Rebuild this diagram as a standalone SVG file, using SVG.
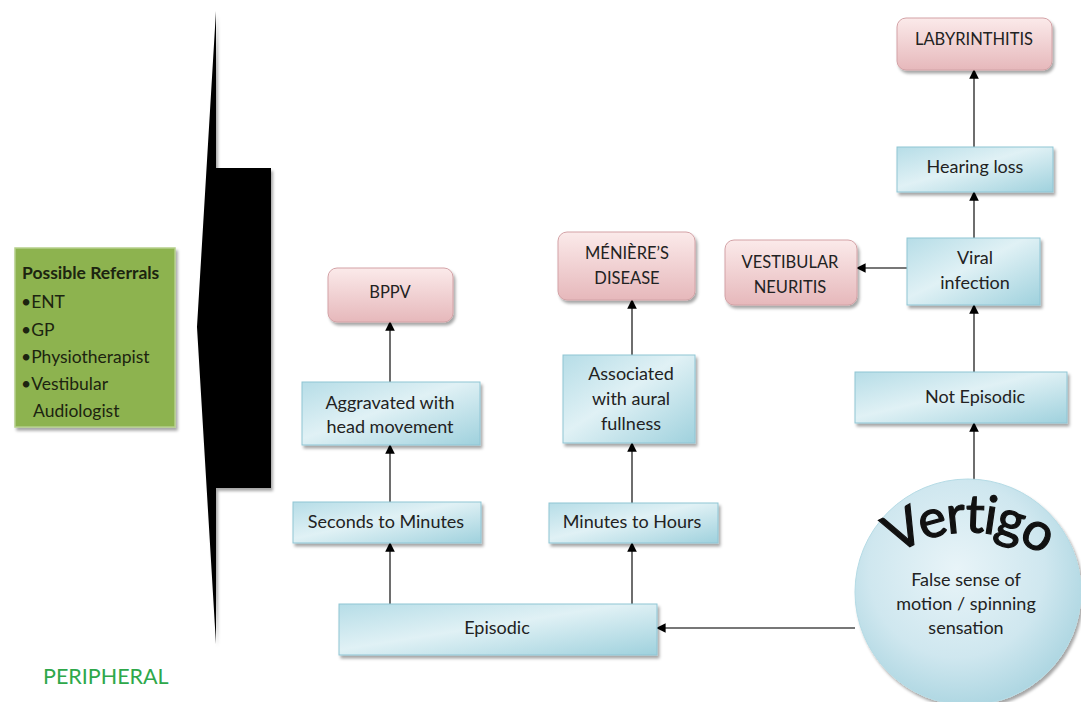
<svg xmlns="http://www.w3.org/2000/svg" width="1081" height="702" viewBox="0 0 1081 702">
  <defs>
    <style>
      text { font-family: "Lato", "Open Sans", "Liberation Sans", sans-serif; fill: #222; }
      .lbl { font-size: 18px; text-anchor: middle; }
      .cap { font-size: 16.5px; text-anchor: middle; }
      .blue { fill: url(#gBlue); stroke: #8fc5d4; stroke-width: 1; filter: url(#shadow); }
      .pink { fill: url(#gPink); stroke: #d3a2a6; stroke-width: 1; filter: url(#shadow); }
      .conn { stroke: #4a4a4a; stroke-width: 1.6; fill: none; marker-end: url(#arrow); }
      .ref { font-size: 17.5px; fill: #1c2410; }
    </style>
    <linearGradient id="gBlue" x1="0" y1="0" x2="1" y2="1">
      <stop offset="0" stop-color="#b6dde7"/>
      <stop offset="0.45" stop-color="#e0f1f5"/>
      <stop offset="1" stop-color="#9fd1dd"/>
    </linearGradient>
    <linearGradient id="gPink" x1="0" y1="0" x2="0" y2="1">
      <stop offset="0" stop-color="#fbeaea"/>
      <stop offset="1" stop-color="#e6b8bb"/>
    </linearGradient>
    <radialGradient id="gCircle" cx="0.45" cy="0.4" r="0.65">
      <stop offset="0" stop-color="#e8f4f8"/>
      <stop offset="0.6" stop-color="#cfe7ef"/>
      <stop offset="1" stop-color="#a7d3df"/>
    </radialGradient>
    <filter id="shadow" x="-10%" y="-10%" width="125%" height="135%">
      <feDropShadow dx="2" dy="3" stdDeviation="1.5" flood-color="#000" flood-opacity="0.35"/>
    </filter>
    <marker id="arrow" viewBox="0 0 10 10" refX="9" refY="5" markerWidth="6" markerHeight="6" orient="auto" markerUnits="strokeWidth">
      <path d="M0,0 L10,5 L0,10 Z" fill="#000"/>
    </marker>
    <!-- baseline arc for the title lettering -->
    <path id="vertigoArc" d="M862,590 A128,128 0 0 1 1076,590"/>
  </defs>

  <rect width="1081" height="702" fill="#fff"/>

  <!-- bracket shape separating referrals from the flowchart -->
  <g id="bracket">
    <path d="M216,11 L216,168 L271,168 L271,488 L216,488 L216,644 L197,327 Z" fill="#000" filter="url(#shadow)"/>
  </g>

  <!-- referrals panel -->
  <g id="referrals">
    <rect x="15" y="248" width="160" height="179" fill="#8db34f" stroke="#b5cf8a" stroke-width="1.5" filter="url(#shadow)"/>
    <text x="22" y="279" class="ref" font-weight="bold">Possible Referrals</text>
    <text x="21" y="308" class="ref">•ENT</text>
    <text x="21" y="336" class="ref">•GP</text>
    <text x="21" y="363" class="ref">•Physiotherapist</text>
    <text x="21" y="390" class="ref">•Vestibular</text>
    <text x="33" y="417" class="ref">Audiologist</text>
  </g>

  <text id="peripheral" x="43" y="684" font-size="21.5" style="fill:#2ea84a">PERIPHERAL</text>

  <!-- connectors -->
  <g id="connectors">
    <line class="conn" x1="390" y1="604" x2="390" y2="543"/>
    <line class="conn" x1="632" y1="604" x2="632" y2="543"/>
    <line class="conn" x1="390" y1="502" x2="390" y2="445"/>
    <line class="conn" x1="632" y1="503" x2="632" y2="443"/>
    <line class="conn" x1="390" y1="382" x2="390" y2="322"/>
    <line class="conn" x1="632" y1="355" x2="632" y2="300"/>
    <line class="conn" x1="855" y1="628" x2="657" y2="628"/>
    <line class="conn" x1="974" y1="481" x2="974" y2="423"/>
    <line class="conn" x1="974" y1="372" x2="974" y2="305"/>
    <line class="conn" x1="907" y1="268" x2="857" y2="268"/>
    <line class="conn" x1="974" y1="238" x2="974" y2="192"/>
    <line class="conn" x1="974" y1="147" x2="974" y2="70"/>
  </g>

  <!-- outcome nodes -->
  <g id="labyrinthitis">
    <rect class="pink" x="897" y="18" width="155" height="52" rx="9"/>
    <text class="cap" x="974" y="45">LABYRINTHITIS</text>
  </g>
  <g id="vestibular-neuritis">
    <rect class="pink" x="725" y="240" width="132" height="65" rx="9"/>
    <text class="cap" x="790" y="268">VESTIBULAR</text>
    <text class="cap" x="790" y="293">NEURITIS</text>
  </g>
  <g id="menieres">
    <rect class="pink" x="558" y="232" width="137" height="68" rx="9"/>
    <text class="cap" x="627" y="259">MÉNIÈRE’S</text>
    <text class="cap" x="627" y="284">DISEASE</text>
  </g>
  <g id="bppv">
    <rect class="pink" x="328" y="268" width="125" height="54" rx="9"/>
    <text class="cap" x="390" y="298">BPPV</text>
  </g>

  <!-- symptom nodes -->
  <g id="hearing-loss">
    <rect class="blue" x="897" y="147" width="156" height="45"/>
    <text class="lbl" x="975" y="173">Hearing loss</text>
  </g>
  <g id="viral-infection">
    <rect class="blue" x="907" y="238" width="133" height="67"/>
    <text class="lbl" x="975" y="264">Viral</text>
    <text class="lbl" x="975" y="289">infection</text>
  </g>
  <g id="not-episodic">
    <rect class="blue" x="855" y="372" width="212" height="51"/>
    <text class="lbl" x="975" y="403">Not Episodic</text>
  </g>
  <g id="associated">
    <rect class="blue" x="563" y="355" width="132" height="88"/>
    <text class="lbl" x="631" y="380">Associated</text>
    <text class="lbl" x="631" y="405">with aural</text>
    <text class="lbl" x="631" y="430">fullness</text>
  </g>
  <g id="aggravated">
    <rect class="blue" x="302" y="382" width="178" height="63"/>
    <text class="lbl" x="390" y="409">Aggravated with</text>
    <text class="lbl" x="390" y="433">head movement</text>
  </g>
  <g id="seconds">
    <rect class="blue" x="293" y="502" width="188" height="41"/>
    <text class="lbl" x="386" y="528">Seconds to Minutes</text>
  </g>
  <g id="minutes">
    <rect class="blue" x="549" y="503" width="169" height="40"/>
    <text class="lbl" x="632" y="528">Minutes to Hours</text>
  </g>
  <g id="episodic">
    <rect class="blue" x="339" y="604" width="318" height="51"/>
    <text class="lbl" x="497" y="634">Episodic</text>
  </g>

  <!-- root node -->
  <g id="vertigo">
    <circle cx="968" cy="592" r="113" fill="url(#gCircle)" stroke="#b5dbe5" stroke-width="1" filter="url(#shadow)"/>
    <text font-size="53" letter-spacing="-2" stroke="#111" stroke-width="1.2" style="fill:#111"><textPath href="#vertigoArc" startOffset="50%" text-anchor="middle">Vertigo</textPath></text>
    <text class="lbl" x="966" y="586">False sense of</text>
    <text class="lbl" x="966" y="610">motion / spinning</text>
    <text class="lbl" x="966" y="634">sensation</text>
  </g>
</svg>
